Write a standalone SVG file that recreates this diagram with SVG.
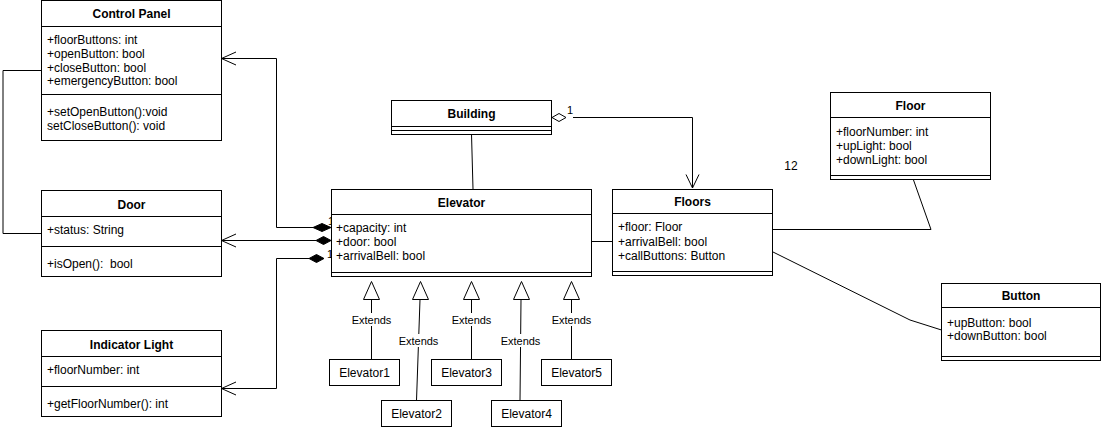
<svg xmlns="http://www.w3.org/2000/svg" width="1102" height="427" viewBox="0 0 1102 427">
<style>
.box{fill:#fff;stroke:#000;stroke-width:1}
.ln{fill:none;stroke:#000;stroke-width:1}
text{font-family:"Liberation Sans",Arial,sans-serif;fill:#000}
.h{font-size:12px;font-weight:bold;text-anchor:middle}
.a{font-size:12px}
.c{font-size:12px;text-anchor:middle}
.e{font-size:11px;text-anchor:middle}
.m{font-size:11px}
</style>
<rect width="1102" height="427" fill="#fff"/>
<g id="connectors">
  <polyline class="ln" points="41,70.5 3,70.5 3,233.5 41,233.5"/>
  <polyline class="ln" points="313,227.5 276.5,227.5 276.5,58.5 221.5,58.5"/>
  <polyline class="ln" points="236,52 221.5,58.5 236,65"/>
  <polygon points="331,227.5 322,223.5 313,227.5 322,231.5" fill="#000" stroke="#000"/>
  <polyline class="ln" points="316,240.5 221.5,240.5"/>
  <polyline class="ln" points="236,234 221.5,240.5 236,247"/>
  <polygon points="331,240.5 323.5,236.5 316,240.5 323.5,244.5" fill="#000" stroke="#000"/>
  <polyline class="ln" points="309,258.5 276.5,258.5 276.5,388.5 221.5,388.5"/>
  <polyline class="ln" points="236,382 221.5,388.5 236,395"/>
  <polygon points="324,258.5 316.5,254.5 309,258.5 316.5,262.5" fill="#000" stroke="#000"/>
  <text class="m" x="328" y="225">1</text>
  <text class="m" x="332" y="238">1</text>
  <text class="m" x="327" y="258">1</text>
  <line class="ln" x1="471.5" y1="134" x2="473" y2="189"/>
  <polygon points="552,117.5 559,113.5 566,117.5 559,121.5" fill="#fff" stroke="#000"/>
  <polyline class="ln" points="573,117.5 692.5,117.5 692.5,188"/>
  <polyline class="ln" points="686,174.5 692.5,188 699,174.5"/>
  <text class="m" x="567" y="114">1</text>
  <line class="ln" x1="591" y1="241.5" x2="612" y2="241.5"/>
  <polyline class="ln" points="772,229.5 931,229.5 913.5,180"/>
  <polyline class="ln" points="772,251.5 910,320 941.5,330"/>
  <text class="c" x="791" y="170">12</text>
  <g id="gen">
    <line class="ln" x1="371.5" y1="299.5" x2="371.5" y2="359.5"/>
    <line class="ln" x1="420" y1="299.5" x2="416.5" y2="400.5"/>
    <line class="ln" x1="471.5" y1="299.5" x2="471.5" y2="359.5"/>
    <line class="ln" x1="521" y1="299.5" x2="520" y2="400.5"/>
    <line class="ln" x1="571.5" y1="299.5" x2="571.5" y2="359.5"/>
    <polygon class="box" points="371.5,281.5 363.5,299.5 379.5,299.5"/>
    <polygon class="box" points="420.5,281.5 412.5,299.5 428.5,299.5"/>
    <polygon class="box" points="471.5,281.5 463.5,299.5 479.5,299.5"/>
    <polygon class="box" points="521.5,281.5 513.5,299.5 529.5,299.5"/>
    <polygon class="box" points="571.5,281.5 563.5,299.5 579.5,299.5"/>
    <rect x="352" y="313" width="39" height="13" fill="#fff"/>
    <rect x="399" y="334" width="39" height="13" fill="#fff"/>
    <rect x="452" y="313" width="39" height="13" fill="#fff"/>
    <rect x="501" y="334" width="39" height="13" fill="#fff"/>
    <rect x="552" y="313" width="39" height="13" fill="#fff"/>
    <text class="e" x="371.5" y="324">Extends</text>
    <text class="e" x="418.5" y="344.5">Extends</text>
    <text class="e" x="471.5" y="324">Extends</text>
    <text class="e" x="520.5" y="344.5">Extends</text>
    <text class="e" x="571.5" y="324">Extends</text>
  </g>
</g>
<g id="controlPanel">
  <rect class="box" x="41.5" y="0.5" width="180" height="140"/>
  <line class="ln" x1="41.5" y1="26.5" x2="221.5" y2="26.5"/>
  <line class="ln" x1="41.5" y1="94.5" x2="221.5" y2="94.5"/>
  <text class="h" x="131.5" y="18">Control Panel</text>
  <text class="a" x="47" y="44">+floorButtons: int</text>
  <text class="a" x="47" y="57.5">+openButton: bool</text>
  <text class="a" x="47" y="71.5">+closeButton: bool</text>
  <text class="a" x="47" y="85">+emergencyButton: bool</text>
  <text class="a" x="47" y="116">+setOpenButton():void</text>
  <text class="a" x="47" y="130">setCloseButton(): void</text>
</g>
<g id="door">
  <rect class="box" x="41.5" y="190.5" width="180" height="86"/>
  <line class="ln" x1="41.5" y1="216.5" x2="221.5" y2="216.5"/>
  <line class="ln" x1="41.5" y1="246.5" x2="221.5" y2="246.5"/>
  <text class="h" x="131.5" y="208.5">Door</text>
  <text class="a" x="47" y="234">+status: String</text>
  <text class="a" x="47" y="267.5" xml:space="preserve">+isOpen():  bool</text>
</g>
<g id="indicatorLight">
  <rect class="box" x="41.5" y="330.5" width="180" height="86"/>
  <line class="ln" x1="41.5" y1="356.5" x2="221.5" y2="356.5"/>
  <line class="ln" x1="41.5" y1="386.5" x2="221.5" y2="386.5"/>
  <text class="h" x="131.5" y="348.5">Indicator Light</text>
  <text class="a" x="47" y="374">+floorNumber: int</text>
  <text class="a" x="47" y="407.5">+getFloorNumber(): int</text>
</g>
<g id="building">
  <rect class="box" x="391.5" y="100.5" width="160" height="34"/>
  <line class="ln" x1="391.5" y1="126.5" x2="551.5" y2="126.5"/>
  <line class="ln" x1="391.5" y1="130.5" x2="551.5" y2="130.5"/>
  <text class="h" x="471.5" y="118">Building</text>
</g>
<g id="elevator">
  <rect class="box" x="331.5" y="189.5" width="260" height="87"/>
  <line class="ln" x1="331.5" y1="214.5" x2="591.5" y2="214.5"/>
  <line class="ln" x1="331.5" y1="272.5" x2="591.5" y2="272.5"/>
  <text class="h" x="461.5" y="206.5">Elevator</text>
  <text class="a" x="336" y="232">+capacity: int</text>
  <text class="a" x="336" y="246">+door: bool</text>
  <text class="a" x="336" y="260">+arrivalBell: bool</text>
</g>
<g id="floors">
  <rect class="box" x="612.5" y="189.5" width="160" height="86"/>
  <line class="ln" x1="612.5" y1="213.5" x2="772.5" y2="213.5"/>
  <line class="ln" x1="612.5" y1="271.5" x2="772.5" y2="271.5"/>
  <text class="h" x="692.5" y="206">Floors</text>
  <text class="a" x="618" y="231">+floor: Floor</text>
  <text class="a" x="618" y="246">+arrivalBell: bool</text>
  <text class="a" x="618" y="260">+callButtons: Button</text>
</g>
<g id="floor">
  <rect class="box" x="830.5" y="92.5" width="160" height="87"/>
  <line class="ln" x1="830.5" y1="117.5" x2="990.5" y2="117.5"/>
  <line class="ln" x1="830.5" y1="175.5" x2="990.5" y2="175.5"/>
  <text class="h" x="910.5" y="109.5">Floor</text>
  <text class="a" x="836" y="136">+floorNumber: int</text>
  <text class="a" x="836" y="150">+upLight: bool</text>
  <text class="a" x="836" y="164">+downLight: bool</text>
</g>
<g id="button">
  <rect class="box" x="941.5" y="283.5" width="159" height="77"/>
  <line class="ln" x1="941.5" y1="307.5" x2="1100.5" y2="307.5"/>
  <line class="ln" x1="941.5" y1="356.5" x2="1100.5" y2="356.5"/>
  <text class="h" x="1021" y="299.5">Button</text>
  <text class="a" x="947" y="326.5">+upButton: bool</text>
  <text class="a" x="947" y="340">+downButton: bool</text>
</g>
<g id="elevator1"><rect class="box" x="329.5" y="359.5" width="70" height="26"/><text class="c" x="364.5" y="376.5">Elevator1</text></g>
<g id="elevator2"><rect class="box" x="381.5" y="400.5" width="70" height="26"/><text class="c" x="416.5" y="417.5">Elevator2</text></g>
<g id="elevator3"><rect class="box" x="431.5" y="359.5" width="70" height="26"/><text class="c" x="466.5" y="376.5">Elevator3</text></g>
<g id="elevator4"><rect class="box" x="491.5" y="400.5" width="70" height="26"/><text class="c" x="526.5" y="417.5">Elevator4</text></g>
<g id="elevator5"><rect class="box" x="541.5" y="359.5" width="70" height="26"/><text class="c" x="576.5" y="376.5">Elevator5</text></g>
</svg>
